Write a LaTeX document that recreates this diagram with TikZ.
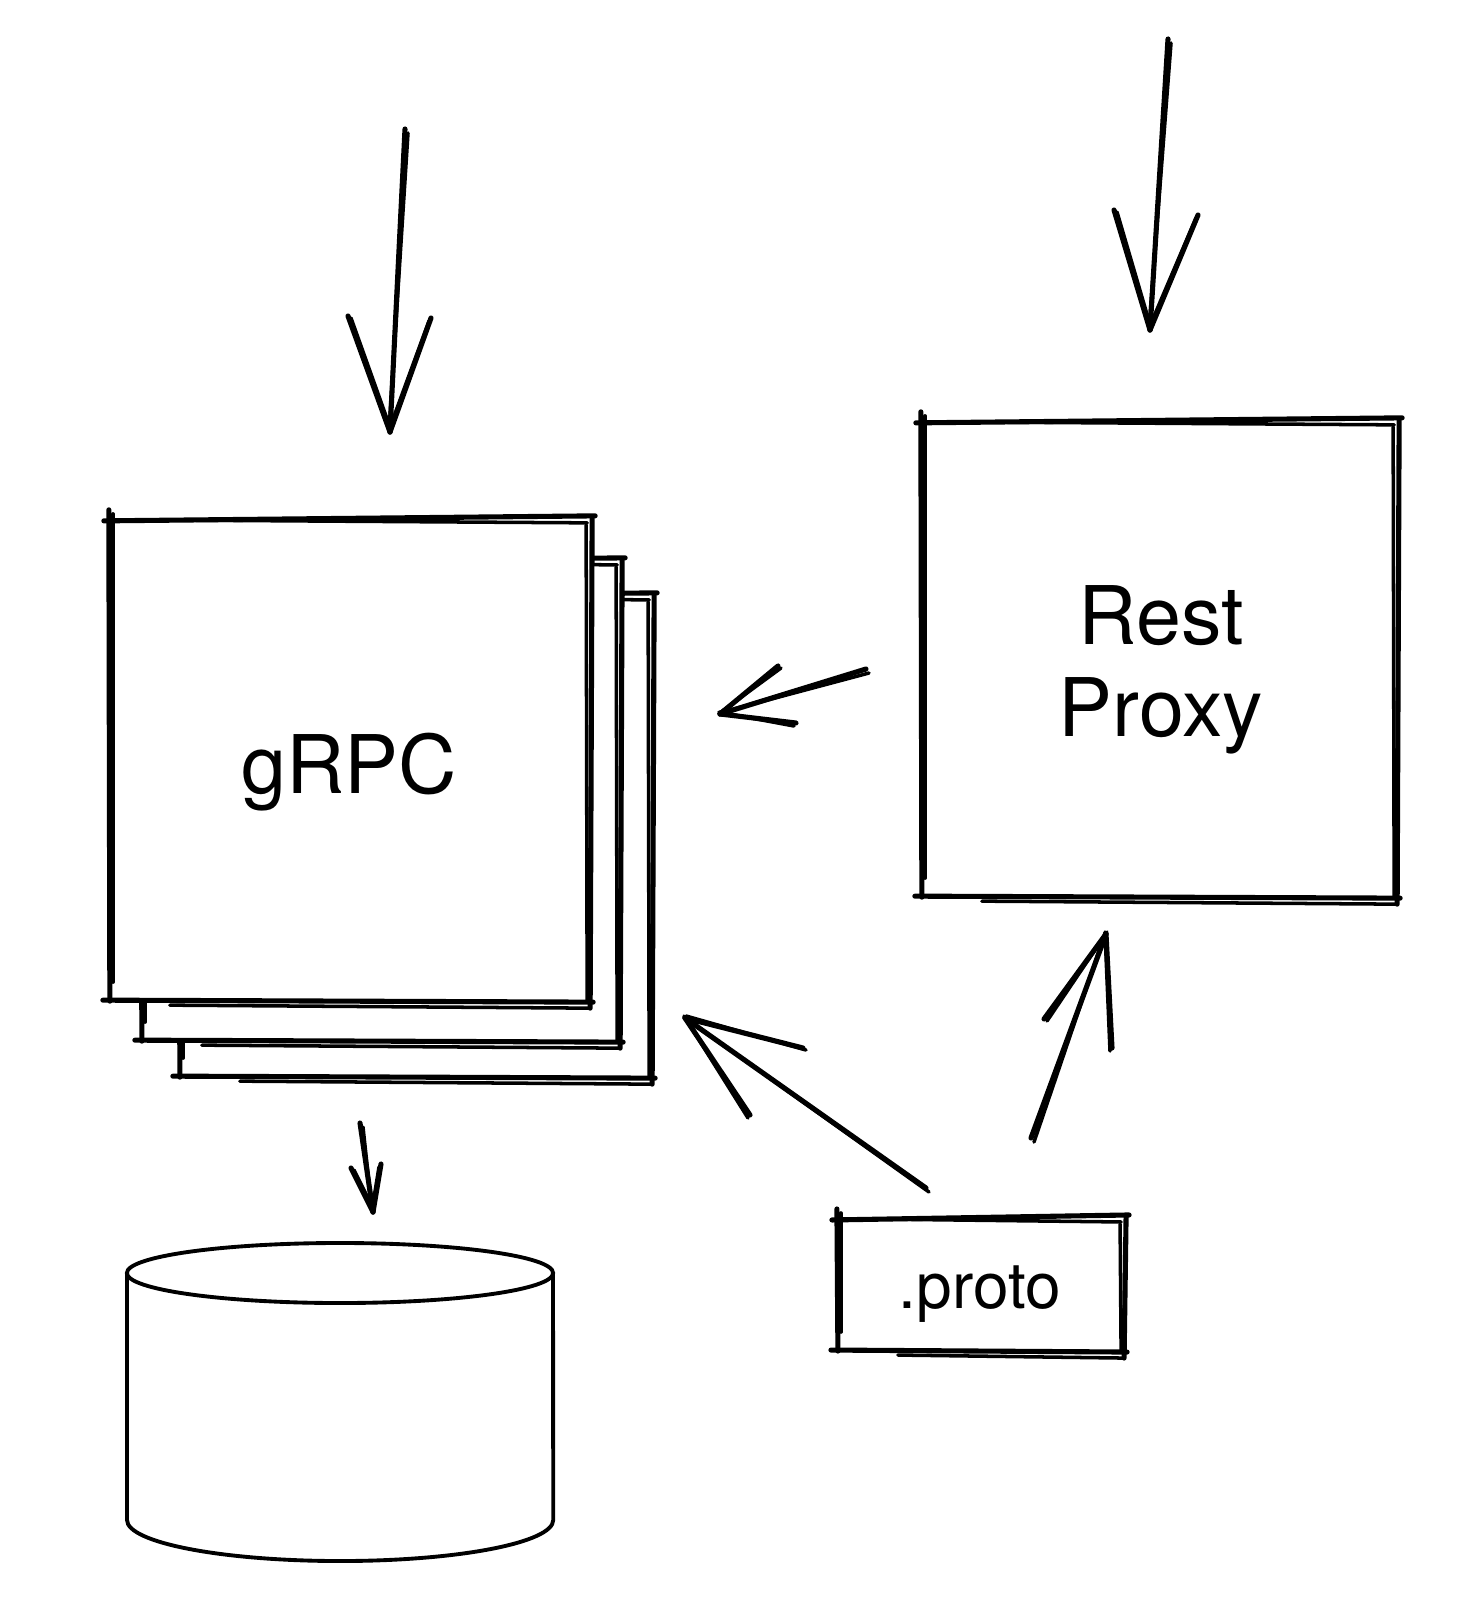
\documentclass[tikz,border=0pt]{standalone}
\usepackage{fontspec}
\setmainfont{TeX Gyre Heros}
\usetikzlibrary{calc}
\tikzset{
  ink/.style={line width=1.45pt, line cap=round, line join=round, black},
  inkthin/.style={line width=1.0pt, line cap=round, line join=round, black},
  boxshape/.style={rectangle, fill=white, draw=none, inner sep=0pt, outer sep=0pt},
  lbl/.style={font=\fontsize{23}{26.2}\selectfont, inner sep=0pt, align=center},
  lblsmall/.style={font=\fontsize{18.2}{21}\selectfont, inner sep=0pt},
  dbline/.style={line width=1.1pt, black},
}
\newcommand\skbox[1]{%
  \draw[ink] ($(#1.north west)+(-6,1)$) -- ($(#1.north east)+(5,-4)$);
  \draw[inkthin] ($(#1.north west)+(30,0)$) -- ($(#1.north east)+(-3,3)$);
  \draw[ink] ($(#1.north east)+(2,-3)$) -- ($(#1.south east)+(0,6)$);
  \draw[inkthin] ($(#1.north east)+(-4,5)$) -- ($(#1.south east)+(-3,-2)$);
  \draw[ink] ($(#1.south east)+(3,0)$) -- ($(#1.south west)+(-7,-2)$);
  \draw[inkthin] ($(#1.south east)+(-2,6)$) -- ($(#1.south west)+(60,3)$);
  \draw[ink] ($(#1.south west)+(0,-1)$) -- ($(#1.north west)+(-1,-10)$);
  \draw[inkthin] ($(#1.south west)+(3,-20)$) -- ($(#1.north west)+(3,-6)$);
}
% tail, tip, barb end 1, barb end 2
\newcommand\skarrow[4]{%
  \draw[ink] (#1) -- (#2);
  \draw[inkthin] ($(#1)+(3,4)$) -- ($(#2)+(-1,-1)$);
  \draw[ink] (#3) -- (#2);
  \draw[inkthin] ($(#3)+(3,2)$) -- ($(#2)+(1,-2)$);
  \draw[ink] (#4) -- (#2);
  \draw[inkthin] ($(#4)+(-2,3)$) -- ($(#2)+(-1,-2)$);
}
\begin{document}
\begin{tikzpicture}[x=0.01cm,y=-0.01cm]
\useasboundingbox (0,0) rectangle (1472,1600);
\fill[white] (0,0) rectangle (1472,1600);

% stacked gRPC boxes
\node[boxshape, minimum width=4.72cm, minimum height=4.81cm] (grpcC) at (416,837.5) {};
\skbox{grpcC}
\node[boxshape, minimum width=4.78cm, minimum height=4.80cm] (grpcB) at (381,802) {};
\skbox{grpcB}
\node[boxshape, minimum width=4.80cm, minimum height=4.82cm] (grpc) at (350,761) {};
\skbox{grpc}
\node[lbl] (grpctext) at (349,772) {gRPC};

% Rest Proxy box
\node[boxshape, minimum width=4.75cm, minimum height=4.76cm] (rest) at (1159.5,660) {};
\skbox{rest}
\node[lbl] (resttext) at (1161,670) {Rest\\Proxy};

% .proto box
\node[boxshape, minimum width=2.86cm, minimum height=1.33cm] (proto) at (981,1285.5) {};
\skbox{proto}
\node[lblsmall] (prototext) at (980,1294) {.proto};

% database cylinder
\coordinate (dbtop) at (340,1273);
\coordinate (dbbot) at (340,1520);
\draw[dbline] ($(dbtop)+(-213,0)$) -- ($(dbbot)+(-213,0)$)
   arc[start angle=180, end angle=360, x radius=2.13cm, y radius=0.41cm]
   -- ($(dbtop)+(213,0)$);
\draw[dbline] (dbtop) ellipse [x radius=2.13cm, y radius=0.30cm];

% arrow coordinates
\coordinate (a1t) at (405,129);  \coordinate (a1h) at (390,432);
\coordinate (a1l) at (348,316);  \coordinate (a1r) at (431,318);
\coordinate (a2t) at (1168,39);  \coordinate (a2h) at (1150,330);
\coordinate (a2l) at (1114,210); \coordinate (a2r) at (1198,215);
\coordinate (a3t) at (866,669);  \coordinate (a3h) at (720,714);
\coordinate (a3l) at (778,666);  \coordinate (a3r) at (796,723);
\coordinate (a4t) at (926,1188); \coordinate (a4h) at (685,1018);
\coordinate (a4l) at (803,1048); \coordinate (a4r) at (750,1115);
\coordinate (a5t) at (1031,1138);\coordinate (a5h) at (1106,934);
\coordinate (a5l) at (1044,1019);\coordinate (a5r) at (1112,1048);
\coordinate (a6t) at (360,1123); \coordinate (a6h) at (373,1212);
\coordinate (a6l) at (351,1168); \coordinate (a6r) at (381,1164);

\skarrow{a1t}{a1h}{a1l}{a1r}
\skarrow{a2t}{a2h}{a2l}{a2r}
\skarrow{a3t}{a3h}{a3l}{a3r}
\skarrow{a4t}{a4h}{a4l}{a4r}
\skarrow{a5t}{a5h}{a5l}{a5r}
\skarrow{a6t}{a6h}{a6l}{a6r}
\end{tikzpicture}
\end{document}
